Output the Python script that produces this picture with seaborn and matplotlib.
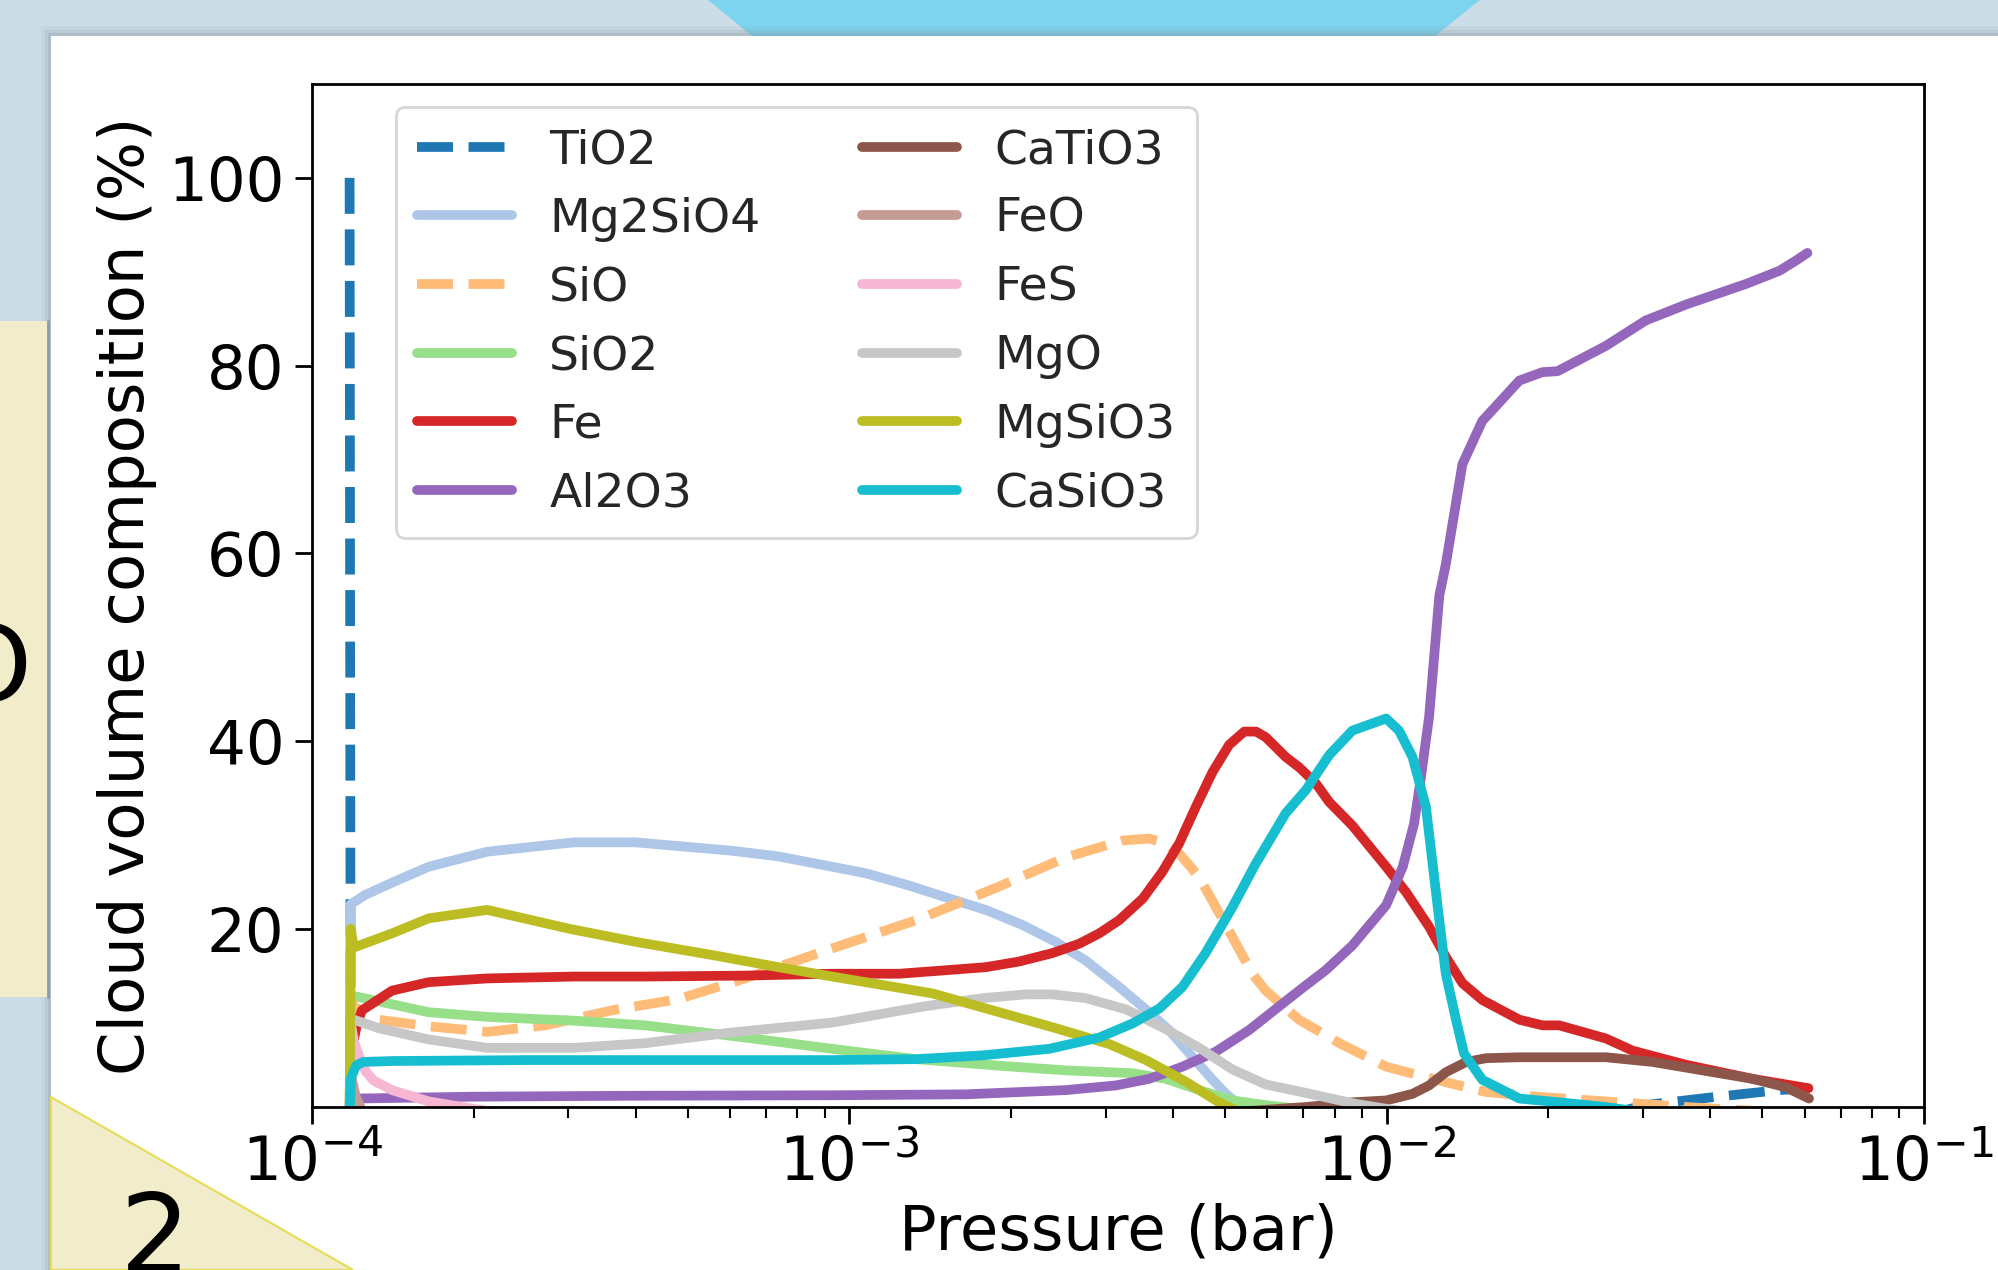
import matplotlib
matplotlib.use("Agg")
import matplotlib.pyplot as plt
from matplotlib.patches import Rectangle, Polygon
import numpy as np
import seaborn as sns

# log10(pressure / bar) and cloud volume composition (%)
TIO2_LOGP = [-3.930, -3.928, -1.60, -1.52, -1.40, -1.27, -1.215]
TIO2_PCT = [100, 0, 0, 1.2, 2.0, 2.8, 3.0]

MG2SIO4_LOGP = [-3.930, -3.928, -3.901, -3.851, -3.783, -3.674, -3.513, -3.398, -3.318,
                -3.218, -3.132, -3.032, -2.969, -2.889, -2.802, -2.746, -2.678, -2.616,
                -2.560, -2.498, -2.442, -2.405, -2.361, -2.324, -2.299, -2.274, -2.25, -1.215]
MG2SIO4_PCT = [0, 22.6, 23.6, 24.9, 26.6, 28.2, 29.2, 29.2, 28.8, 28.3, 27.7, 26.6, 25.9,
               24.6, 23.0, 22.0, 20.4, 18.6, 16.6, 13.8, 11.1, 9.2, 6.3, 3.9, 2.4, 1.2, 0, 0]

SIO_LOGP = [-3.930, -3.928, -3.922, -3.876, -3.783, -3.674, -3.566, -3.442, -3.318, -3.194,
            -3.032, -2.876, -2.721, -2.597, -2.491, -2.442, -2.411, -2.386, -2.349, -2.318,
            -2.287, -2.25, -2.225, -2.163, -2.088, -2.001, -1.908, -1.815, -1.722, -1.567,
            -1.443, -1.288, -1.215]
SIO_PCT = [0, 12.5, 11.7, 10.3, 9.6, 9.0, 9.7, 11.3, 12.5, 14.7, 17.9, 20.9, 24.5, 27.6,
           29.4, 29.6, 29.1, 28.0, 25.5, 22.3, 19.1, 15.2, 13.4, 10.3, 7.8, 5.3, 3.9, 2.6,
           2.1, 1.5, 1.0, 0.5, 0.3]

SIO2_LOGP = [-3.930, -3.928, -3.783, -3.674, -3.513, -3.380, -3.194, -3.032, -2.876, -2.721,
             -2.597, -2.473, -2.411, -2.349, -2.287, -2.225, -2.163, -2.10, -1.215]
SIO2_PCT = [0, 12.9, 11.1, 10.6, 10.2, 9.7, 8.4, 7.2, 6.1, 5.4, 4.9, 4.6, 4.0, 2.8, 1.7,
            1.2, 0.8, 0, 0]

FE_LOGP = [-3.930, -3.928, -3.916, -3.907, -3.851, -3.783, -3.674, -3.513, -3.380, -3.194,
           -3.031, -2.907, -2.814, -2.746, -2.684, -2.622, -2.572, -2.535, -2.498, -2.454,
           -2.417, -2.386, -2.355, -2.324, -2.293, -2.265, -2.243, -2.225, -2.188, -2.163,
           -2.132, -2.107, -2.064, -2.001, -1.964, -1.921, -1.890, -1.859, -1.822, -1.753,
           -1.710, -1.679, -1.592, -1.542, -1.443, -1.319, -1.215]
FE_PCT = [0, 6.5, 9.9, 11.3, 13.4, 14.3, 14.7, 14.9, 14.9, 15.0, 15.2, 15.2, 15.6, 15.9,
          16.5, 17.4, 18.4, 19.5, 20.9, 23.2, 26.1, 29.1, 33.0, 36.7, 39.6, 41.0, 41.0,
          40.4, 38.3, 37.2, 35.5, 33.5, 31.0, 26.6, 23.9, 20.2, 17.0, 14.2, 12.4, 10.3,
          9.7, 9.7, 8.3, 7.0, 5.5, 4.0, 3.0]

AL2O3_LOGP = [-3.930, -3.928, -3.919, -3.70, -3.40, -3.031, -2.783, -2.597, -2.504, -2.442,
              -2.380, -2.318, -2.256, -2.163, -2.113, -2.064, -2.001, -1.970, -1.949, -1.936,
              -1.921, -1.902, -1.890, -1.859, -1.822, -1.753, -1.710, -1.682, -1.592, -1.518,
              -1.443, -1.331, -1.269, -1.238, -1.217]
AL2O3_PCT = [0, 1.5, 1.9, 2.1, 2.2, 2.25, 2.35, 2.8, 3.3, 4.0, 5.3, 6.9, 9.2, 13.4, 15.6,
             18.2, 22.5, 26.6, 31.2, 36.2, 42.6, 55.5, 58.8, 69.5, 74.1, 78.4, 79.3, 79.4,
             82.1, 84.8, 86.5, 88.7, 90.1, 91.2, 92.0]

CATIO3_LOGP = [-3.930, -2.35, -2.25, -2.15, -2.0635, -2.001, -1.952, -1.921, -1.890, -1.852,
               -1.815, -1.753, -1.592, -1.505, -1.412, -1.319, -1.257, -1.214]
CATIO3_PCT = [0, 0, 0.6, 1.0, 1.5, 1.7, 2.4, 3.3, 4.7, 5.8, 6.2, 6.3, 6.3, 5.8, 4.9, 4.0,
              3.1, 1.9]

FEO_LOGP = [-3.930, -3.928, -3.918, -3.902, -1.215]
FEO_PCT = [0, 4.5, 2.0, 0, 0]

FES_LOGP = [-3.930, -3.928, -3.922, -3.913, -3.900, -3.885, -3.851, -3.783, -3.70, -3.60, -1.215]
FES_PCT = [0, 10.0, 8.0, 6.5, 4.8, 3.8, 2.8, 1.6, 0.8, 0, 0]

MGO_LOGP = [-3.930, -3.928, -3.922, -3.876, -3.783, -3.674, -3.513, -3.380, -3.225, -3.031,
            -2.863, -2.752, -2.671, -2.622, -2.560, -2.485, -2.411, -2.349, -2.287, -2.225,
            -2.150, -2.064, -2.0, -1.9, -1.215]
MGO_PCT = [0, 10.3, 10.3, 9.4, 8.2, 7.3, 7.3, 7.8, 8.9, 10.0, 11.7, 12.6, 13.0, 13.0, 12.6,
           11.4, 9.3, 7.3, 5.0, 3.4, 2.5, 1.4, 0.8, 0, 0]

MGSIO3_LOGP = [-3.930, -3.928, -3.922, -3.851, -3.783, -3.674, -3.522, -3.398, -3.256, -3.132,
               -3.032, -2.845, -2.622, -2.516, -2.448, -2.374, -2.312, -2.287, -2.26, -1.215]
MGSIO3_PCT = [0, 20.0, 18.0, 19.5, 21.1, 22.0, 20.0, 18.6, 17.2, 15.9, 14.9, 13.1, 9.5, 7.7,
              6.0, 3.7, 1.5, 0.8, 0, 0]

CASIO3_LOGP = [-3.930, -3.928, -3.918, -3.905, -3.85, -3.60, -3.031, -2.876, -2.752, -2.628,
               -2.535, -2.473, -2.423, -2.380, -2.337, -2.287, -2.244, -2.188, -2.150, -2.107,
               -2.064, -2.001, -1.977, -1.952, -1.927, -1.905, -1.890, -1.871, -1.856, -1.822,
               -1.753, -1.679, -1.592, -1.530, -1.48, -1.215]
CASIO3_PCT = [0, 4.0, 5.4, 5.8, 5.9, 6.0, 6.0, 6.1, 6.5, 7.2, 8.4, 9.9, 11.5, 13.8, 17.4,
              22.3, 26.9, 32.3, 34.8, 38.5, 41.1, 42.4, 41.1, 38.3, 33.0, 22.3, 15.2, 10.3,
              6.7, 3.9, 1.9, 1.5, 1.0, 0.5, 0, 0]

SPECIES = [
    ("TiO2", TIO2_LOGP, TIO2_PCT, "#1f77b4", "--"),
    ("Mg2SiO4", MG2SIO4_LOGP, MG2SIO4_PCT, "#aec7e8", "-"),
    ("SiO", SIO_LOGP, SIO_PCT, "#ffbb78", "--"),
    ("SiO2", SIO2_LOGP, SIO2_PCT, "#98df8a", "-"),
    ("Fe", FE_LOGP, FE_PCT, "#d62728", "-"),
    ("Al2O3", AL2O3_LOGP, AL2O3_PCT, "#9467bd", "-"),
    ("CaTiO3", CATIO3_LOGP, CATIO3_PCT, "#8c564b", "-"),
    ("FeO", FEO_LOGP, FEO_PCT, "#c49c94", "-"),
    ("FeS", FES_LOGP, FES_PCT, "#f7b6d2", "-"),
    ("MgO", MGO_LOGP, MGO_PCT, "#c7c7c7", "-"),
    ("MgSiO3", MGSIO3_LOGP, MGSIO3_PCT, "#bcbd22", "-"),
    ("CaSiO3", CASIO3_LOGP, CASIO3_PCT, "#17becf", "-"),
]

W, H = 1999, 1270


def fx(px):
    return px / W


def fy(py):
    return 1 - py / H


def draw_slide(fig):
    # slide background pieces around the white card
    fig.patches.append(Polygon([(fx(708), fy(0)), (fx(1480), fy(0)), (fx(1435), fy(36)),
                                (fx(752), fy(36))], closed=True, transform=fig.transFigure,
                               facecolor="#7dd4ee", edgecolor="none", zorder=0))
    for off, a in [(10, 0.10), (6, 0.15), (3, 0.2)]:
        fig.patches.append(Rectangle((fx(51 - off), 0), 1, fy(36 - off), transform=fig.transFigure,
                                     facecolor="#7f909a", alpha=a, edgecolor="none", zorder=0))
    fig.patches.append(Rectangle((fx(51), 0), 1, fy(36), transform=fig.transFigure,
                                 facecolor="white", edgecolor="none", zorder=1))
    fig.patches.append(Rectangle((0, fy(997)), fx(48), (997 - 321) / H, transform=fig.transFigure,
                                 facecolor="#f1ecc9", edgecolor="none", zorder=1))
    fig.lines.append(plt.Line2D([fx(48), fx(48)], [fy(321), fy(997)], transform=fig.transFigure,
                                color="#8e9ca3", lw=2, zorder=2))
    fig.text(fx(-10), fy(672), "O", fontsize=76, ha="center", va="center", color="black", zorder=3)
    fig.patches.append(Polygon([(fx(51), fy(1097)), (fx(353), fy(1270)), (fx(51), fy(1270))],
                               closed=True, transform=fig.transFigure, facecolor="#f1ecc9",
                               edgecolor="#e6dc55", lw=1.5, zorder=2))
    fig.text(fx(155), fy(1273), "2", fontsize=80, ha="center", va="baseline", color="black", zorder=3)


def main():
    sns.set_theme(style="ticks")
    plt.rcParams["font.family"] = ["DejaVu Sans"]

    fig = plt.figure(figsize=(W / 100, H / 100), dpi=100, facecolor="#cddde7")
    draw_slide(fig)

    ax = fig.add_axes([fx(312), fy(1107), 1612 / W, 1023 / H])
    ax.set_zorder(5)

    for name, logp, pct, color, ls in SPECIES:
        sns.lineplot(x=10 ** np.array(logp), y=pct, ax=ax, color=color, linewidth=7,
                     linestyle=ls, label=name, estimator=None, sort=False)

    ax.set_xscale("log")
    ax.set_xlim(1e-4, 1e-1)
    ax.set_ylim(1, 110)
    ax.set_yticks([20, 40, 60, 80, 100])

    ax.set_xlabel("Pressure (bar)", fontsize=45, color="black", labelpad=6)
    ax.set_ylabel("Cloud volume composition (%)", fontsize=45, color="black", labelpad=8)
    ax.tick_params(axis="both", which="major", labelsize=44, length=12, width=2,
                   colors="black", direction="out", pad=8)
    ax.tick_params(axis="x", which="minor", length=8, width=1.5, colors="black")
    for sp in ax.spines.values():
        sp.set_color("black")
        sp.set_linewidth(2)
        sp.set_visible(True)

    leg = ax.legend(ncol=2, loc="upper left", bbox_to_anchor=(0.052, 0.9775), borderaxespad=0,
                    fontsize=34, labelspacing=0.5, handlelength=2.0, handletextpad=0.8,
                    columnspacing=2.15, borderpad=0.45, frameon=True, fancybox=True)
    leg.get_frame().set_edgecolor("#cccccc")
    leg.get_frame().set_linewidth(2)
    leg.get_frame().set_alpha(0.8)

    fig.savefig("out.png", dpi=100, facecolor=fig.get_facecolor())


if __name__ == "__main__":
    main()
